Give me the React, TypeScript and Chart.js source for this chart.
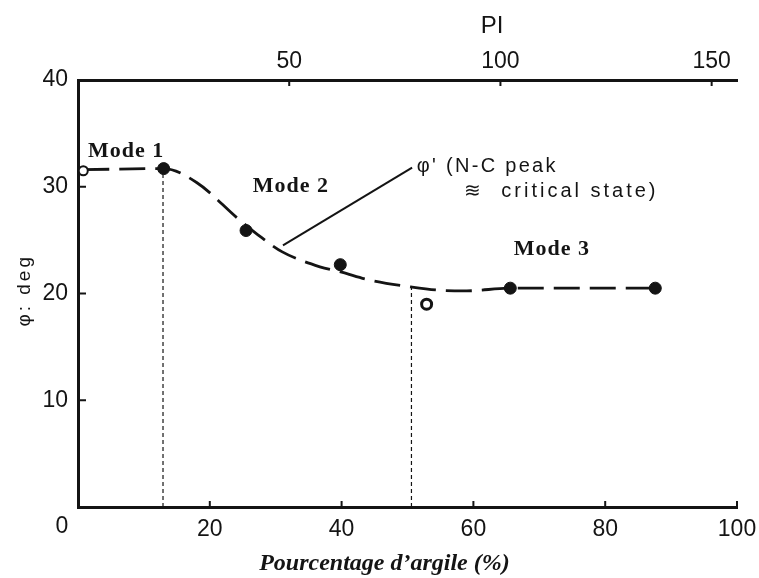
import { useEffect, useRef } from "react";
import { Chart, registerables } from "chart.js";

Chart.register(...registerables);

// Axis tick labels
const CLAY_TICKS = [20, 40, 60, 80, 100];
const PI_TICKS = [50, 100, 150];
const PHI_TICKS = [10, 20, 30, 40];

// Measured friction angles (solid markers)
const FILLED_CLAY = [13, 25.5, 39.8, 65.6, 87.6];
const FILLED_PHI = [31.7, 25.9, 22.7, 20.5, 20.5];

// Measured friction angles (open markers)
const OPEN_CLAY = [0.8, 52.9];
const OPEN_PHI = [31.5, 19.0];

// Dashed trend: φ' (N-C peak ≈ critical state)
const CURVE_CLAY = [0.8, 13, 18, 24.3, 27.3, 31, 36.7, 40, 44, 50.7, 55, 59, 65.6, 88];
const CURVE_PHI = [31.6, 31.7, 30.4, 27.0, 25.5, 23.9, 22.5, 22.0, 21.3, 20.6, 20.3, 20.25, 20.5, 20.5];

// Boundaries between the three modes (clay %, top of the dotted line)
const BOUNDARY_CLAY = [12.9, 50.6];
const BOUNDARY_PHI = [31.2, 20.6];

// Leader from the curve to its caption
const LEADER_CLAY = [31.1, 50.7];
const LEADER_PHI = [24.5, 31.8];

const MODE_LABELS = ["Mode 1", "Mode 2", "Mode 3"];
const CURVE_CAPTION = ["φ' (N-C peak", "≋  critical state)"];
const X_TITLE = "Pourcentage d’argile (%)";
const X2_TITLE = "PI";
const Y_TITLE = "φ: deg";

const INK = "#141414";
const SANS = "'Liberation Sans', Arial, sans-serif";
const SERIF = "'Liberation Serif', 'Times New Roman', serif";
const TICK_FONT = { family: SANS, size: 23 };

const pts = (xs: number[], ys: number[]) => xs.map((x, i) => ({ x, y: ys[i] }));

function drawText(
  ctx: CanvasRenderingContext2D,
  text: string,
  x: number,
  y: number,
  font: string,
  align: CanvasTextAlign,
  spacing = 0
) {
  ctx.save();
  ctx.font = font;
  ctx.fillStyle = INK;
  ctx.textAlign = align;
  ctx.textBaseline = "alphabetic";
  (ctx as any).letterSpacing = spacing + "px";
  ctx.fillText(text, x, y);
  ctx.restore();
}

const decorations = {
  id: "decorations",
  afterDraw(chart: Chart) {
    const ctx = chart.ctx;
    const xs = chart.scales.x;
    const xt = chart.scales.xTop;
    const ys = chart.scales.y;
    const area = chart.chartArea;

    // inward tick marks
    ctx.save();
    ctx.strokeStyle = INK;
    ctx.lineWidth = 2;
    ctx.beginPath();
    CLAY_TICKS.forEach((v) => {
      const px = xs.getPixelForValue(v);
      ctx.moveTo(px, area.bottom);
      ctx.lineTo(px, area.bottom - 6);
    });
    PI_TICKS.forEach((v) => {
      const px = xt.getPixelForValue(v);
      ctx.moveTo(px, area.top);
      ctx.lineTo(px, area.top + 6);
    });
    PHI_TICKS.slice(0, 3).forEach((v) => {
      const py = ys.getPixelForValue(v);
      ctx.moveTo(area.left, py);
      ctx.lineTo(area.left + 8, py);
    });
    ctx.stroke();
    ctx.restore();

    // shared origin label
    drawText(ctx, "0", area.left - 16, area.bottom + 26, `23px ${SANS}`, "center");

    // axis titles
    drawText(ctx, X_TITLE, xs.getPixelForValue(46.5), 570, `bold italic 24px ${SERIF}`, "center");
    drawText(ctx, X2_TITLE, xt.getPixelForValue(98), 33, `24px ${SANS}`, "center");
    ctx.save();
    ctx.translate(30, ys.getPixelForValue(20.3));
    ctx.rotate(-Math.PI / 2);
    drawText(ctx, Y_TITLE, 0, 0, `19px ${SANS}`, "center", 3);
    ctx.restore();

    // mode labels
    const modeFont = `bold 22px ${SERIF}`;
    drawText(ctx, MODE_LABELS[0], xs.getPixelForValue(7.3), ys.getPixelForValue(32.8), modeFont, "center", 1);
    drawText(ctx, MODE_LABELS[1], xs.getPixelForValue(32.3), ys.getPixelForValue(29.5), modeFont, "center", 1);
    drawText(ctx, MODE_LABELS[2], xs.getPixelForValue(71.9), ys.getPixelForValue(23.6), modeFont, "center", 1);

    // curve caption
    drawText(ctx, CURVE_CAPTION[0], xs.getPixelForValue(51.4), ys.getPixelForValue(31.4), `20px ${SANS}`, "left", 2.3);
    drawText(ctx, CURVE_CAPTION[1], xs.getPixelForValue(58.6), ys.getPixelForValue(29.0), `20px ${SANS}`, "left", 3);
  },
};

const fitHorizontal = (h: number) => (s: any) => {
  s.height = h;
  s.paddingLeft = 0;
  s.paddingRight = 0;
};

export default function App() {
  const canvasRef = useRef<HTMLCanvasElement | null>(null);

  useEffect(() => {
    const canvas = canvasRef.current;
    if (!canvas) return;

    const chart = new Chart(canvas, {
      type: "line",
      data: {
        datasets: [
          {
            label: "filled",
            data: pts(FILLED_CLAY, FILLED_PHI),
            showLine: false,
            pointRadius: 6,
            pointBackgroundColor: INK,
            pointBorderColor: INK,
            pointBorderWidth: 1,
            clip: false,
          },
          {
            label: "open",
            data: pts(OPEN_CLAY, OPEN_PHI),
            showLine: false,
            pointRadius: [4.5, 5],
            pointBackgroundColor: "#ffffff",
            pointBorderColor: INK,
            pointBorderWidth: [2, 3],
            clip: false,
          },
          {
            label: "curve",
            data: pts(CURVE_CLAY, CURVE_PHI),
            borderColor: INK,
            borderWidth: 2.8,
            borderDash: [26, 10],
            cubicInterpolationMode: "monotone",
            pointRadius: 0,
            fill: false,
          },
          {
            label: "leader",
            data: pts(LEADER_CLAY, LEADER_PHI),
            borderColor: INK,
            borderWidth: 2,
            pointRadius: 0,
            fill: false,
          },
          ...BOUNDARY_CLAY.map((c, i) => ({
            label: "boundary" + i,
            data: [
              { x: c, y: 0 },
              { x: c, y: BOUNDARY_PHI[i] },
            ],
            borderColor: INK,
            borderWidth: 1.2,
            borderDash: [4, 3],
            pointRadius: 0,
            fill: false,
          })),
        ],
      },
      options: {
        animation: false,
        responsive: false,
        maintainAspectRatio: false,
        layout: { padding: { left: 0, right: 22, top: 0, bottom: 0 } },
        plugins: {
          legend: { display: false },
          tooltip: { enabled: false },
          title: { display: false },
        },
        scales: {
          x: {
            type: "linear",
            position: "bottom",
            min: 0,
            max: 100,
            afterBuildTicks: (s: any) => {
              s.ticks = CLAY_TICKS.map((value) => ({ value }));
            },
            afterFit: fitHorizontal(71),
            ticks: {
              padding: 9,
              color: INK,
              font: TICK_FONT,
              maxRotation: 0,
              autoSkip: false,
            },
            grid: { display: false, drawTicks: false },
            border: { display: true, width: 3, color: INK },
          },
          xTop: {
            type: "linear",
            position: "top",
            min: 0,
            max: 156,
            afterBuildTicks: (s: any) => {
              s.ticks = PI_TICKS.map((value) => ({ value }));
            },
            afterFit: fitHorizontal(80),
            ticks: {
              padding: 5,
              color: INK,
              font: TICK_FONT,
              maxRotation: 0,
              autoSkip: false,
            },
            grid: { display: false, drawTicks: false },
            border: { display: true, width: 3, color: INK },
          },
          y: {
            type: "linear",
            position: "left",
            min: 0,
            max: 40,
            afterBuildTicks: (s: any) => {
              s.ticks = PHI_TICKS.map((value) => ({ value }));
            },
            afterFit: (s: any) => {
              s.width = 78;
              s.paddingTop = 0;
              s.paddingBottom = 0;
            },
            ticks: {
              padding: 10,
              color: INK,
              font: TICK_FONT,
              autoSkip: false,
            },
            grid: { display: false, drawTicks: false },
            border: { display: true, width: 3, color: INK },
          },
        },
      },
      plugins: [decorations],
    });

    return () => chart.destroy();
  }, []);

  return (
    <div style={{ position: "fixed", left: 0, top: 0, width: 759, height: 578, background: "#fff" }}>
      <canvas ref={canvasRef} width={759} height={578} style={{ display: "block" }} />
    </div>
  );
}
